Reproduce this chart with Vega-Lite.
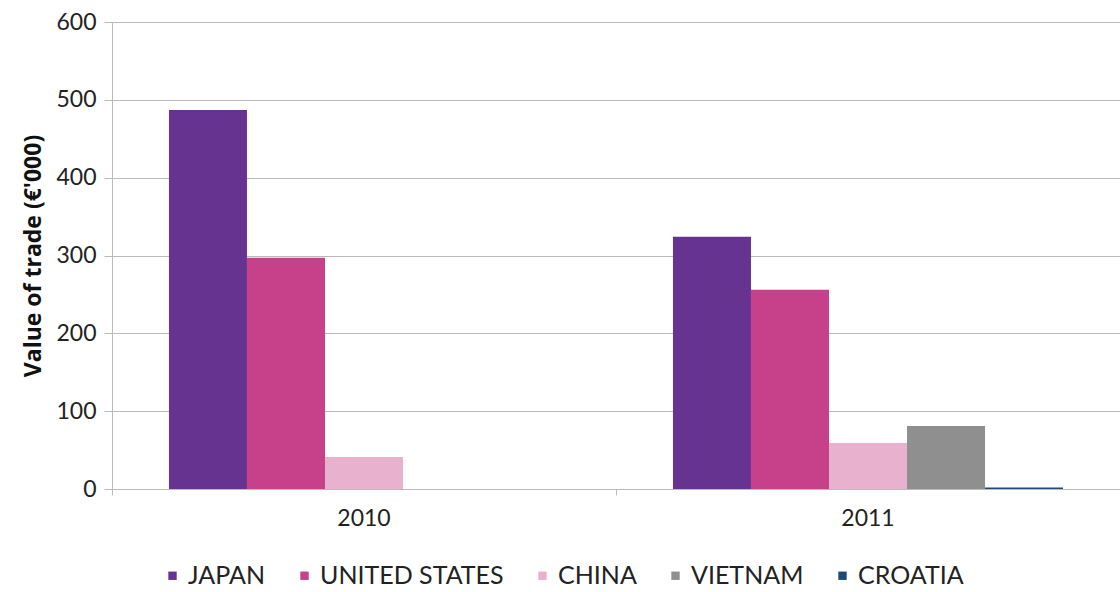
{
  "$schema": "https://vega.github.io/schema/vega-lite/v6.json",
  "width": 1008,
  "height": 467,
  "autosize": "none",
  "padding": {"left": 112, "top": 22, "right": 0, "bottom": 103},
  "background": "white",
  "config": {
    "view": {"stroke": null},
    "font": "Lato"
  },
  "data": {
    "values": [
      {"year": "2010", "country": "JAPAN", "value": 487},
      {"year": "2010", "country": "UNITED STATES", "value": 297},
      {"year": "2010", "country": "CHINA", "value": 41},
      {"year": "2011", "country": "JAPAN", "value": 324},
      {"year": "2011", "country": "UNITED STATES", "value": 256},
      {"year": "2011", "country": "CHINA", "value": 59},
      {"year": "2011", "country": "VIETNAM", "value": 81},
      {"year": "2011", "country": "CROATIA", "value": 2}
    ]
  },
  "mark": {"type": "bar"},
  "encoding": {
    "x": {
      "field": "year",
      "type": "nominal",
      "scale": {"paddingInner": 0, "paddingOuter": 0},
      "axis": {
        "title": null,
        "labelAngle": 0,
        "labelFontSize": 23,
        "labelColor": "#222",
        "labelPadding": 12,
        "bandPosition": 0,
        "domainColor": "#bbb",
        "tickColor": "#bbb",
        "tickSize": 6,
        "grid": false
      }
    },
    "xOffset": {
      "field": "country",
      "type": "nominal",
      "scale": {
        "domain": ["JAPAN", "UNITED STATES", "CHINA", "VIETNAM", "CROATIA"],
        "paddingInner": 0,
        "paddingOuter": 0.73
      }
    },
    "y": {
      "field": "value",
      "type": "quantitative",
      "scale": {"domain": [0, 600], "nice": false},
      "axis": {
        "title": "Value of trade (€'000)",
        "titleFont": "Open Sans",
        "titleFontSize": 23,
        "titleFontWeight": "bold",
        "titleColor": "#111",
        "titlePadding": 10,
        "values": [0, 100, 200, 300, 400, 500, 600],
        "labelFontSize": 23,
        "labelColor": "#222",
        "labelPadding": 8,
        "gridColor": "#bbb",
        "domainColor": "#bbb",
        "tickColor": "#bbb",
        "tickSize": 8
      }
    },
    "color": {
      "field": "country",
      "type": "nominal",
      "scale": {
        "domain": ["JAPAN", "UNITED STATES", "CHINA", "VIETNAM", "CROATIA"],
        "range": ["#673391", "#c6418a", "#e8b2cf", "#8f8f8f", "#1f4a78"]
      },
      "legend": {
        "title": null,
        "orient": "none",
        "direction": "horizontal",
        "legendX": 48,
        "legendY": 541,
        "symbolType": "square",
        "symbolSize": 70,
        "labelFontSize": 25,
        "labelLimit": 0,
        "labelColor": "#222",
        "labelOffset": 3,
        "columnPadding": 26
      }
    }
  }
}
